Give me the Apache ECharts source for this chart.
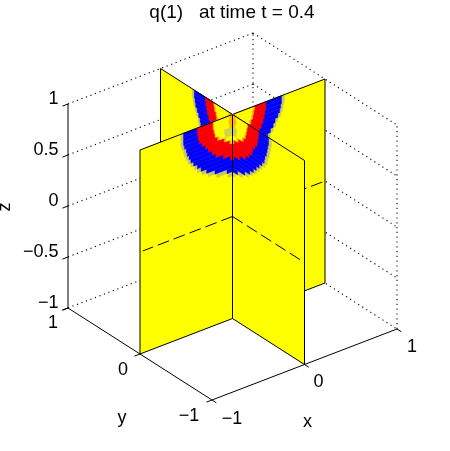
<!DOCTYPE html>
<html><head><meta charset="utf-8">
<style>html,body{margin:0;padding:0;background:#fff}#c{width:450px;height:451px}</style>
<script src="https://cdn.jsdelivr.net/npm/echarts@6/dist/echarts.min.js"></script>
</head><body><div id="c"></div>
<script>
const titleText = 'q(1)   at time t = 0.4';
const zTicks = [-1, -0.5, 0, 0.5, 1];
const zTickLabels = ['\u22121', '\u22120.5', '0', '0.5', '1'];
const xyTicks = [-1, 0, 1];
const xTickLabels = ['\u22121', '0', '1'];
const yTickLabels = ['\u22121', '0', '1'];
const dashLevel = 0;

// z at the centre of each row of the sampled slices
const rowZ = [0.98,0.94,0.90,0.86,0.82,0.78,0.74,0.70,0.66,0.62,0.58,0.54,0.50,0.46,0.42];
// band extents (distance from the x=y=0 line) read per row, one set per quarter slice
const flFringe = [.56,.56,.56,.55,.53,.52,.50,.48,.45,.41,.38,.33,.26,.17,.05];
const flBlue   = [.53,.53,.53,.52,.50,.49,.47,.45,.42,.38,.34,.28,.19,.06,0];
const flRed    = [.38,.38,.37,.36,.33,.29,.26,.22,.18,.10,.02];
const flRing   = [.21,.21,.20,.19,.16,.09,.03];
const flYellow = [.20,.20,.19,.18,.14,.07,.01];
const flOrange = [.03,.04,.03];
const flGray   = [0,0,0,.09,.08];
const frFringe = [.54,.54,.53,.52,.51,.49,.48,.45,.41,.37,.33,.28,.22,.14,.03];
const frBlue   = [.50,.50,.49,.48,.47,.45,.44,.41,.37,.33,.29,.24,.17,.07,0];
const frRed    = [.36,.36,.35,.34,.31,.28,.27,.23,.18,.10,.02];
const frRing   = [.21,.20,.19,.18,.15,.08,.02];
const frYellow = [.20,.19,.18,.16,.13,.06];
const frOrange = [.04,.05,.03];
const frGray   = [0,0,0,.06,.05];
const blFringe = [.56,.56,.55,.54,.52,.50,.48,.47,.43,.39];
const blBlue   = [.53,.53,.52,.51,.49,.47,.45,.44,.40,.36];
const blRed    = [.38,.37,.36,.35,.33,.31,.29,.26,.22,.17];
const blRing   = [.26,.25,.23,.22,.19,.14,.08,.02];
const blYellow = [.24,.23,.21,.20,.17,.12,.06];
const blOrange = [.05,.07,.06,.03];
const blGray   = [];
const brFringe = [.56,.56,.55,.54,.52,.49,.47,.44,.41,.37];
const brBlue   = [.53,.53,.52,.51,.49,.46,.44,.41,.38,.34];
const brRed    = [.36,.36,.35,.34,.33,.31,.29,.26,.21,.15];
const brRing   = [.24,.23,.22,.20,.18,.16,.12,.05];
const brYellow = [.22,.21,.20,.18,.16,.14,.10,.03];
const brOrange = [.03,.04,.03,0,0,.04];
const brGray   = [];

// ---- view: orthographic projection of the unit box to page pixels
const O = [232.5, 216.5], EX = [92.5, -35.5], EY = [-72, -46], EZ = [0, -102];
const project = (x, y, z) => [O[0] + EX[0]*x + EY[0]*y + EZ[0]*z, O[1] + EX[1]*x + EY[1]*y + EZ[1]*z];

const shapes = [];
const line = (a, b, w, dash) => shapes.push({t:'line', a, b, w, dash});
const poly = (pts, fill) => shapes.push({t:'poly', pts, fill});
const text = (p, off, s, o) => shapes.push(Object.assign({t:'text', p, off, s}, o||{}));

// back walls, floor: dotted grid
const DOT = [1.2, 3.6];
zTicks.forEach(z => { line([-1,1,z],[1,1,z],1.1,DOT); line([1,1,z],[1,-1,z],1.1,DOT); });
line([1,1,-1],[1,1,1],1.1,DOT); line([1,-1,-1],[1,-1,1],1.1,DOT);

// a quarter slice: `at(s,z)` maps slice position to box coordinates
const H = 0.02;
function quarter(at, bands) {
  poly([at(0,1),at(1,1),at(1,-1),at(0,-1)], '#ffff00');
  bands.forEach(([edges, color]) => {
    rowZ.forEach((z, r) => {
      const s = edges[r] || 0;
      if (s > 0) poly([at(0,z+H),at(s,z+H),at(s,z-H),at(0,z-H)], color);
    });
  });
}
const FRINGE='#c8c860', BLUE='#0000ff', RED='#ff0000', RING='#ffb000', YEL='#ffff00', ORG='#ffb400', GRAY='#d2d24a';
const atBL = (s,z)=>[0,s,z], atBR=(s,z)=>[s,0,z], atFL=(s,z)=>[-s,0,z], atFR=(s,z)=>[0,-s,z];

function dashed(at, s0, s1) { line(at(s0,dashLevel), at(s1,dashLevel), 1, [12,5]); }
function edges(at) {
  line(at(0,1),at(1,1),1); line(at(1,1),at(1,-1),1); line(at(1,-1),at(0,-1),1); line(at(0,-1),at(0,1),1);
}
quarter(atBL, [[blFringe,FRINGE],[blBlue,BLUE],[blRed,RED],[blRing,RING],[blYellow,YEL],[blGray,GRAY],[blOrange,ORG]]);
edges(atBL);
quarter(atBR, [[brFringe,FRINGE],[brBlue,BLUE],[brRed,RED],[brRing,RING],[brYellow,YEL],[brGray,GRAY],[brOrange,ORG]]);
dashed(atBR, 0.97, 0);
edges(atBR);
quarter(atFL, [[flFringe,FRINGE],[flBlue,BLUE],[flRed,RED],[flRing,RING],[flYellow,YEL],[flGray,GRAY],[flOrange,ORG]]);
dashed(atFL, 0, 0.97);
edges(atFL);
quarter(atFR, [[frFringe,FRINGE],[frBlue,BLUE],[frRed,RED],[frRing,RING],[frYellow,YEL],[frGray,GRAY],[frOrange,ORG]]);
dashed(atFR, 0, 0.97);
edges(atFR);

// solid axes with ticks
const TK = 0.06;
line([-1,1,-1],[-1,1,1],1); line([-1,1,-1],[-1,-1,-1],1); line([-1,-1,-1],[1,-1,-1],1);
zTicks.forEach(z => line([-1,1,z],[-1-TK,1,z],1));
xyTicks.forEach(y => line([-1,y,-1],[-1-TK,y,-1],1));
xyTicks.forEach(x => line([x,-1,-1],[x,-1-TK,-1],1));

// tick labels
const F = '18px "Liberation Sans"';
zTicks.forEach((z,i) => text([-1,1,z],[-9.5,-5],zTickLabels[i],{align:'right',font:F}));
const yOff = [[-15,15],[-17,16],[-23,16]];
xyTicks.forEach((y,i) => text([-1,y,-1],yOff[2-i],yTickLabels[i],{font:F}));
const xOff = [[20,19],[14,18],[15,18]];
xyTicks.forEach((x,i) => text([x,-1,-1],xOff[i],xTickLabels[i],{font:F}));
text([0,-1,-1],[3,58],'x',{font:F});
text([-1,0,-1],[-18,64],'y',{font:F});
text([-1,1,0],[-63,1],'z',{font:F,rot:Math.PI/2});

function renderItem(params, api) {
  const s = shapes[params.dataIndex];
  const C = v => api.coord(project(v[0], v[1], v[2]));
  if (s.t === 'poly') {
    return {type:'polygon', shape:{points:s.pts.map(C)}, style:{fill:s.fill, stroke:s.fill, lineWidth:0.4}};
  }
  if (s.t === 'line') {
    const a = C(s.a), b = C(s.b);
    return {type:'line', shape:{x1:a[0],y1:a[1],x2:b[0],y2:b[1]},
      style:{stroke:'#000', lineWidth:s.w, lineDash:s.dash||null, fill:null}};
  }
  const p = C(s.p);
  return {type:'text', x:p[0]+s.off[0], y:p[1]+s.off[1], rotation:s.rot||0,
    style:{text:s.s, fill:'#000', font:s.font, align:s.align||'center', verticalAlign:'middle'}};
}

const chart = echarts.init(document.getElementById('c'), null, {renderer:'canvas', width:450, height:451});
chart.setOption({
  animation:false,
  backgroundColor:'#fff',
  title:{text:titleText, left:232, top:3, padding:0, textAlign:'center',
    textStyle:{fontFamily:'Liberation Sans', fontSize:19, fontWeight:'normal', color:'#000'}},
  tooltip:{show:false},
  grid:{left:0,right:0,top:0,bottom:0,containLabel:false},
  xAxis:{type:'value',min:0,max:450,show:false},
  yAxis:{type:'value',min:0,max:451,inverse:true,show:false},
  series:[{type:'custom',coordinateSystem:'cartesian2d',clip:false,silent:true,
    renderItem, data:shapes.map((_,i)=>[i,0]), encode:{x:0,y:1}}]
});
</script></body></html>
